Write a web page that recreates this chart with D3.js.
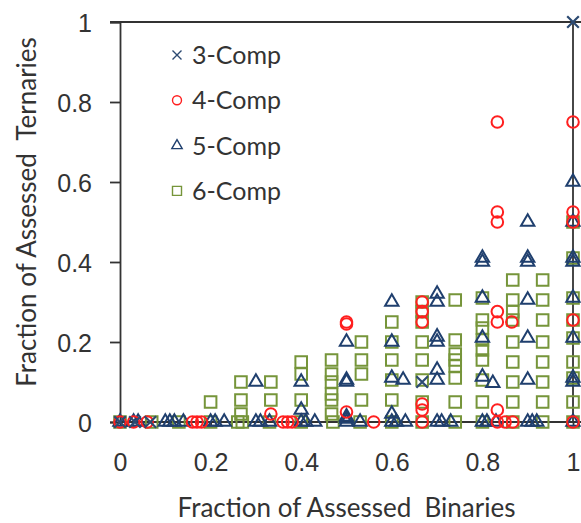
<!DOCTYPE html>
<html>
<head>
<meta charset="utf-8">
<script src="https://cdn.jsdelivr.net/npm/d3@7"></script>
<style>
  body { margin: 0; background: #fff; }
  svg { display: block; font-family: Lato, "Open Sans", sans-serif; }
</style>
</head>
<body>
<div id="container"></div>
<script>
/* DATA  [fraction of binaries, fraction of ternaries] */
const comp3 = [[0,0],[0.033,0],[0.067,0],[0.667,0.1],[1,1]]

const comp4 = [
  [0,0],[0.03,0],[0.06,0],[0.16,0],[0.17,0],[0.18,0],[0.333,0.02],[0.36,0],[0.37,0],[0.38,0],
  [0.5,0.025],[0.56,0],[0.667,0.03],[0.667,0.045],[0.667,0],[0.833,0.03],[0.833,0],
  [0.85,0],[0.867,0],[1,0],
  [0.5,0.25],[0.5,0.245],[0.667,0.3],[0.667,0.276],[0.667,0.25],[0.833,0.276],
  [0.833,0.25],[0.865,0.25],[0.833,0.75],[0.833,0.525],[0.833,0.5],
  [1,0.75],[1,0.525],[1,0.5],[1,0.255]
]

const comp5 = [
  [0,0],[0.03,0],[0.04,0],[0.1,0],[0.11,0],[0.12,0],[0.14,0],[0.2,0],[0.21,0],[0.23,0],
  [0.3,0],[0.31,0],[0.33,0],[0.4,0],[0.41,0],[0.43,0],[0.5,0],[0.5,0.008],[0.53,0],
  [0.6,0],[0.61,0],[0.63,0],[0.7,0],[0.71,0],[0.73,0],[0.8,0],[0.81,0],
  [0.83,0],[0.9,0],[0.91,0],[0.92,0],[1,0],
  [0.3,0.1],[0.4,0.1],[0.4,0.03],[0.5,0.2],[0.5,0.105],[0.5,0.1],[0.5,0.013],
  [0.6,0.3],[0.6,0.2],[0.6,0.11],[0.625,0.105],[0.6,0.02],
  [0.7,0.32],[0.7,0.3],[0.7,0.213],[0.7,0.2],[0.7,0.13],[0.7,0.105],
  [0.8,0.41],[0.8,0.4],[0.8,0.31],[0.8,0.21],[0.8,0.113],[0.823,0.097],
  [0.9,0.5],[0.9,0.41],[0.9,0.4],[0.9,0.305],[0.9,0.21],[0.9,0.105],
  [1,0.6],[1,0.5],[1,0.41],[1,0.4],[1,0.31],[1,0.21],[1,0.11],[1,0.1]
]

const comp6 = [
  [0,0],[0.07,0],[0.13,0],[0.2,0],[0.26,0],[0.27,0],[0.33,0],[0.4,0],[0.47,0],
  [0.53,0],[0.6,0],[0.667,0],[0.74,0],[0.8,0],[0.867,0],[0.933,0],[1,0],
  [0.2,0.05],
  [0.267,0.1],[0.267,0.055],[0.267,0.02],
  [0.333,0.1],[0.333,0.055],
  [0.4,0.15],[0.4,0.12],[0.4,0.055],
  [0.467,0.155],[0.467,0.12],[0.467,0.1],[0.467,0.07],[0.467,0.055],[0.467,0.02],
  [0.533,0.2],[0.533,0.155],[0.533,0.12],[0.533,0.055],
  [0.6,0.25],[0.6,0.2],[0.6,0.155],[0.6,0.105],[0.6,0.055],
  [0.667,0.3],[0.667,0.276],[0.667,0.25],[0.667,0.2],[0.667,0.155],[0.667,0.105],[0.667,0.05],
  [0.74,0.305],[0.74,0.205],[0.74,0.17],[0.74,0.155],[0.74,0.14],[0.74,0.11],[0.74,0.05],
  [0.8,0.31],[0.8,0.255],[0.8,0.235],[0.8,0.205],[0.8,0.18],[0.8,0.155],[0.8,0.105],[0.8,0.05],
  [0.867,0.355],[0.867,0.305],[0.867,0.276],[0.867,0.255],[0.867,0.2],[0.867,0.15],[0.867,0.1],[0.867,0.05],
  [0.933,0.355],[0.933,0.305],[0.933,0.255],[0.933,0.2],[0.933,0.15],[0.933,0.1],[0.933,0.05],
  [1,0.5],[1,0.41],[1,0.31],[1,0.255],[1,0.21],[1,0.15],[1,0.11],[1,0.05]
]

const seriesNames = ["3-Comp", "4-Comp", "5-Comp", "6-Comp"]
const xTicks = [0, 0.2, 0.4, 0.6, 0.8, 1]
const yTicks = [0, 0.2, 0.4, 0.6, 0.8, 1]

/* CONSTANTS */
const width = 581, height = 523
const margin = { top: 22, bottom: 101, left: 120, right: 8 }
const ink = "#333"

const xScale = d3.scaleLinear().domain([0, 1]).range([margin.left, width - margin.right])
const yScale = d3.scaleLinear().domain([0, 1]).range([height - margin.bottom, margin.top])

const colors = { "3-Comp": "#2c4a72", "4-Comp": "#ff1f1f", "5-Comp": "#1f3f6e", "6-Comp": "#76953a" }

const svg = d3.select("#container")
  .append("svg")
  .attr("width", width)
  .attr("height", height)

// marker shapes
function marker(name, size) {
  if (name === "3-Comp") {
    const h = size
    return `M${-h},${-h}L${h},${h}M${-h},${h}L${h},${-h}`
  }
  if (name === "4-Comp") return d3.symbol(d3.symbolCircle, size * size * 3.14)()
  if (name === "5-Comp") return d3.symbol(d3.symbolTriangle, size * size * 2.3)()
  return d3.symbol(d3.symbolSquare, size * size * 4)()
}

// frame
svg.append("line")
  .attr("x1", margin.left - 10).attr("x2", width)
  .attr("y1", yScale(1)).attr("y2", yScale(1))
  .attr("stroke", ink).attr("stroke-width", 1.8)
svg.append("line")
  .attr("x1", xScale(1)).attr("x2", xScale(1))
  .attr("y1", yScale(1)).attr("y2", yScale(0))
  .attr("stroke", ink).attr("stroke-width", 1.8)

// axes
const yAxis = svg.append("g")
  .attr("transform", `translate(${margin.left},0)`)
  .call(d3.axisLeft(yScale).tickValues(yTicks).tickSize(10).tickFormat(d3.format("~g")))
yAxis.select(".domain").attr("stroke", ink).attr("stroke-width", 1.8)
yAxis.selectAll(".tick line").attr("stroke", ink).attr("stroke-width", 1.8)
yAxis.selectAll(".tick text")
  .attr("x", -28)
  .attr("dy", "0.36em")
  .style("font-size", "25px")
  .attr("fill", ink)

const xAxis = svg.append("g")
  .attr("transform", `translate(0,${yScale(0)})`)
  .call(d3.axisBottom(xScale).tickValues(xTicks).tickSize(4).tickFormat(d3.format("~g")))
xAxis.select(".domain").attr("d", `M${margin.left},0H${width}`).attr("stroke", ink).attr("stroke-width", 1.8)
xAxis.selectAll(".tick line").attr("stroke", ink).attr("stroke-width", 1.8)
xAxis.selectAll(".tick text")
  .attr("y", 49)
  .attr("dy", 0)
  .style("font-size", "25px")
  .attr("fill", ink)

// points, last series first so that 3-Comp sits on top
const allSeries = [["6-Comp", comp6], ["5-Comp", comp5], ["4-Comp", comp4], ["3-Comp", comp3]]
allSeries.forEach(([name, data]) => {
  svg.append("g")
    .selectAll("path")
    .data(data)
    .join("path")
    .attr("transform", d => `translate(${xScale(d[0])},${yScale(d[1])})`)
    .attr("d", marker(name, 5.8))
    .attr("fill", "none")
    .attr("stroke", colors[name])
    .attr("stroke-width", name === "3-Comp" ? 2.2 : 2)
})

// legend
const legend = svg.selectAll(".legend")
  .data(seriesNames)
  .join("g")
  .attr("transform", (d, i) => `translate(177,${55 + i * 45.3})`)
legend.append("path")
  .attr("d", d => marker(d, 4.5))
  .attr("fill", "none")
  .attr("stroke", d => colors[d])
  .attr("stroke-width", 1.4)
legend.append("text")
  .attr("x", 15)
  .attr("y", 9)
  .style("font-size", "25px")
  .attr("fill", ink)
  .text(d => d)

// axis titles
svg.append("text")
  .attr("x", (xScale(0) + xScale(1)) / 2)
  .attr("y", 517)
  .attr("text-anchor", "middle")
  .style("font-size", "26px")
  .attr("fill", ink)
  .text("Fraction of Assessed\u00a0 Binaries")

svg.append("text")
  .attr("transform", "rotate(-90)")
  .attr("x", -212)
  .attr("y", 36)
  .attr("text-anchor", "middle")
  .style("font-size", "26px")
  .attr("fill", ink)
  .text("Fraction of Assessed\u00a0 Ternaries")
</script>
</body>
</html>
